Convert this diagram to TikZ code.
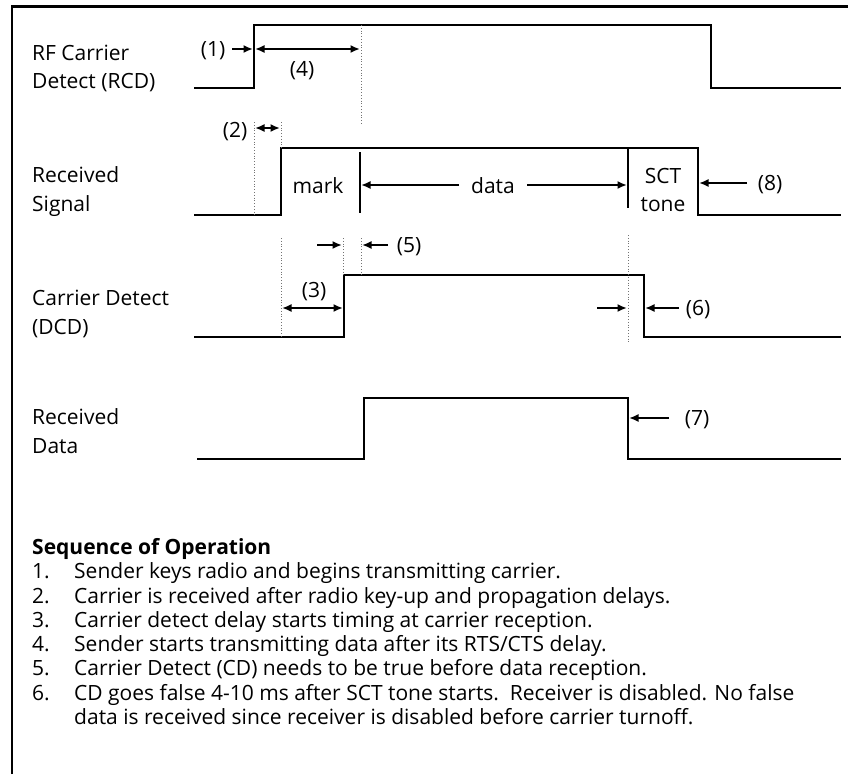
\documentclass[tikz,border=0pt]{standalone}
\usepackage{fontspec}
\setmainfont{Open Sans}
\usetikzlibrary{arrows.meta}
\begin{document}
\begin{tikzpicture}[x=1pt,y=-1pt,
  sig/.style={line width=2.4pt, line join=miter},
  guide/.style={black!55, line width=0.8pt, dotted},
  arr/.style={line width=2.2pt, -{Latex[length=9.5pt,width=8pt]}},
  darr/.style={line width=2.2pt, {Latex[length=9.5pt,width=8pt]}-{Latex[length=9.5pt,width=8pt]}},
  lbl/.style={font=\fontsize{21}{24}\selectfont, inner sep=0pt, anchor=base west},
  tag/.style={font=\fontsize{21}{24}\selectfont, inner sep=0pt, anchor=base},
  lst/.style={font=\fontsize{21}{24}\selectfont, inner sep=0pt, anchor=base west},
]
\useasboundingbox (0,0) rectangle (848,774);
% frame
\draw[line width=2.5pt] (12,774) -- (12,6.5) -- (848,6.5);

% signal labels
\node[lbl] (l1a) at (32,60) {RF Carrier};
\node[lbl] (l1b) at (32,88) {Detect (RCD)};
\node[lbl] (l2a) at (32,182) {Received};
\node[lbl] (l2b) at (32,211) {Signal};
\node[lbl] (l3a) at (32,305) {Carrier Detect};
\node[lbl] (l3b) at (32,334) {(DCD)};
\node[lbl] (l4a) at (32,424) {Received};
\node[lbl] (l4b) at (32,453) {Data};

% waveforms
\draw[sig] (194,88) -- (254,88) -- (254,25) -- (711,25) -- (711,88) -- (841,88);
\draw[sig] (194,215) -- (281,215) -- (281,148) -- (698,148) -- (698,215) -- (841,215);
\draw[sig] (360,152) -- (360,213);
\draw[sig] (628,148) -- (628,208);
\draw[sig] (194,337) -- (344,337) -- (344,275) -- (644,275) -- (644,337) -- (841,337);
\draw[sig] (197,459) -- (364,459) -- (364,398) -- (628,398) -- (628,459) -- (841,459);

% dotted guides
\draw[guide] (361,25) -- (361,125);
\draw[guide] (254,122) -- (254,215);
\draw[guide] (281,122) -- (281,148);
\draw[guide] (281,238) -- (281,337);
\draw[guide] (343,238) -- (343,275);
\draw[guide] (361,238) -- (361,275);
\draw[guide] (628,235) -- (628,342);

% coordinates for dimension arrows
\coordinate (a1s) at (232,49);  \coordinate (a1e) at (253,49);
\coordinate (a4s) at (255,49);  \coordinate (a4e) at (360,49);
\coordinate (a2s) at (255,128); \coordinate (a2e) at (280,128);
\coordinate (dLs) at (459,185); \coordinate (dLe) at (361,185);
\coordinate (dRs) at (527,185); \coordinate (dRe) at (627,185);
\coordinate (a8s) at (747,183); \coordinate (a8e) at (699,183);
\coordinate (a5ls) at (317,245); \coordinate (a5le) at (342,245);
\coordinate (a5rs) at (388,245); \coordinate (a5re) at (362,245);
\coordinate (a3s) at (282,308); \coordinate (a3e) at (343,308);
\coordinate (a6ls) at (597,308); \coordinate (a6le) at (627,308);
\coordinate (a6rs) at (679,308); \coordinate (a6re) at (645,308);
\coordinate (a7s) at (669,418); \coordinate (a7e) at (629,418);

\draw[arr] (a1s) -- (a1e);
\draw[darr] (a4s) -- (a4e);
\draw[darr] (a2s) -- (a2e);
\draw[arr] (dLs) -- (dLe);
\draw[arr] (dRs) -- (dRe);
\draw[arr] (a8s) -- (a8e);
\draw[arr] (a5ls) -- (a5le);
\draw[arr] (a5rs) -- (a5re);
\draw[darr] (a3s) -- (a3e);
\draw[arr] (a6ls) -- (a6le);
\draw[arr] (a6rs) -- (a6re);
\draw[arr] (a7s) -- (a7e);

% tags
\node[tag] (t1) at (213,56) {(1)};
\node[tag] (t4) at (302,76) {(4)};
\node[tag] (t2) at (235,137) {(2)};
\node[tag] (tmark) at (318,193) {mark};
\node[tag] (tdata) at (493,193) {data};
\node[tag] (tsct) at (663,183) {SCT};
\node[tag] (ttone) at (663,211) {tone};
\node[tag] (t8) at (770,190) {(8)};
\node[tag] (t5) at (409,252) {(5)};
\node[tag] (t3) at (314,297) {(3)};
\node[tag] (t6) at (698,315) {(6)};
\node[tag] (t7) at (697,425) {(7)};

% sequence of operation
\node[lst, font=\fontsize{21}{24}\selectfont\bfseries] (seq) at (32,554.5) {Sequence of Operation};
\node[lst] (n1) at (32,578.5) {1.};
\node[lst] (n2) at (32,603) {2.};
\node[lst] (n3) at (32,627.5) {3.};
\node[lst] (n4) at (32,651.5) {4.};
\node[lst] (n5) at (32,675.5) {5.};
\node[lst] (n6) at (32,700) {6.};
\node[lst] (s1) at (74,578.5) {Sender keys radio and begins transmitting carrier.};
\node[lst] (s2) at (74,603) {Carrier is received after radio key-up and propagation delays.};
\node[lst] (s3) at (74,627.5) {Carrier detect delay starts timing at carrier reception.};
\node[lst] (s4) at (74,651.5) {Sender starts transmitting data after its RTS/CTS delay.};
\node[lst] (s5) at (74,675.5) {Carrier Detect (CD) needs to be true before data reception.};
\node[lst] (s6) at (74,700) {CD goes false 4-10 ms after SCT tone starts.\ \ Receiver is disabled. No false};
\node[lst] (s7) at (74,724.5) {data is received since receiver is disabled before carrier turnoff.};
\end{tikzpicture}
\end{document}
